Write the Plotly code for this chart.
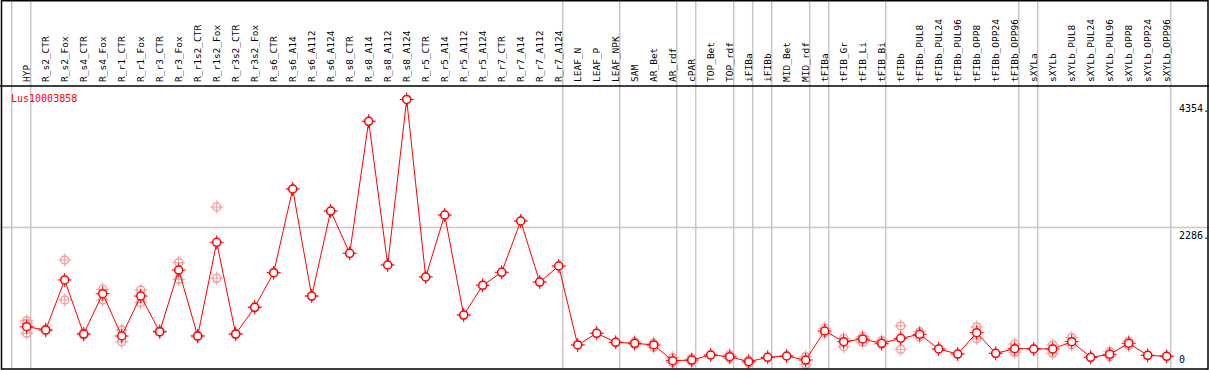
import plotly.graph_objects as go

W, H = 1209, 370

labels = ["HYP", "R_s2_CTR", "R_s2_Fox", "R_s4_CTR", "R_s4_Fox", "R_r1_CTR", "R_r1_Fox",
          "R_r3_CTR", "R_r3_Fox", "R_r1s2_CTR", "R_r1s2_Fox", "R_r3s2_CTR", "R_r3s2_Fox",
          "R_s6_CTR", "R_s6_A14", "R_s6_A112", "R_s6_A124", "R_s8_CTR", "R_s8_A14",
          "R_s8_A112", "R_s8_A124", "R_r5_CTR", "R_r5_A14", "R_r5_A112", "R_r5_A124",
          "R_r7_CTR", "R_r7_A14", "R_r7_A112", "R_r7_A124", "LEAF_N", "LEAF_P", "LEAF_NPK",
          "SAM", "AR_Bet", "AR_rdf", "cPAR", "TOP_Bet", "TOP_rdf", "iFIBa", "iFIBb",
          "MID_Bet", "MID_rdf", "tFIBa", "tFIB_Gr", "tFIB_Li", "tFIB_Bi", "tFIBb",
          "tFIBb_PUL8", "tFIBb_PUL24", "tFIBb_PUL96", "tFIBb_OPP8", "tFIBb_OPP24",
          "tFIBb_OPP96", "sXYLa", "sXYLb", "sXYLb_PUL8", "sXYLb_PUL24", "sXYLb_PUL96",
          "sXYLb_OPP8", "sXYLb_OPP24", "sXYLb_OPP96"]

means = [683, 630, 1438, 565, 1216, 533, 1179, 603, 1599, 533, 2047, 565, 997,
         1556, 2908, 1179, 2552, 1869, 4002, 1680, 4354, 1486, 2488, 872, 1352,
         1562, 2391, 1405, 1664, 388, 577, 431, 415, 388, 134, 145, 226, 199, 118, 189,
         210, 145, 614, 441, 485, 415, 496, 560, 323, 242, 587, 253, 328, 323, 323,
         441, 189, 237, 415, 221, 205]

replicates = [[780, 740, 577], [645, 615], [1761, 1115], [580, 550], [1288, 1115],
              [630, 441], [1276, 1071], [615, 590], [1717, 1449], [545, 520],
              [2617, 1465], [575, 555], [1005, 990],
              [1556], [2908], [1179], [2552], [1869], [4002], [1680], [4354], [1486],
              [2488], [872], [1352], [1562], [2391], [1405], [1664],
              [388], [577], [431], [440, 395], [415, 351], [183, 102], [175, 118],
              [226], [230, 170], [145, 92], [189], [210], [199, 76],
              [657, 586], [496, 360], [528, 431], [457, 399], [695, 318], [603, 517],
              [323], [242], [679, 490], [253], [404, 269], [323], [388, 253],
              [506, 388], [189], [280, 200], [377, 450], [221], [205]]

# indices after which a light-grey group separator is drawn
group_breaks = [-1, 0, 28, 31, 34, 35, 37, 38, 39, 41, 42, 45, 52, 53, 60]

gene = "Lus10003858"

ymax_val = max(means)
yaxis_top = ymax_val * 1.05
ymid = yaxis_top / 2

x_idx = list(range(len(labels)))
rep_x, rep_y = [], []
for i, reps in enumerate(replicates):
    for v in reps:
        rep_x.append(i)
        rep_y.append(v)

RED = "#ff0000"
PINK = "#f0a0a0"
GREY = "#c8c8c8"
FONT = "DejaVu Sans Mono"

fig = go.Figure()
fig.add_trace(go.Scatter(x=rep_x, y=rep_y, mode="markers", hoverinfo="skip",
                         marker=dict(symbol="cross-thin-open", size=9.5, color=PINK,
                                     line=dict(color=PINK, width=1))))
fig.add_trace(go.Scatter(x=rep_x, y=rep_y, mode="markers", hoverinfo="skip",
                         marker=dict(symbol="circle-open", size=8, color=PINK,
                                     line=dict(color=PINK, width=1.5))))
fig.add_trace(go.Scatter(x=x_idx, y=means, mode="markers", hoverinfo="skip",
                         marker=dict(symbol="cross-thin-open", size=10, color=RED,
                                     line=dict(color=RED, width=1))))
fig.add_trace(go.Scatter(x=x_idx, y=means, mode="lines+markers",
                         line=dict(color=RED, width=1),
                         marker=dict(symbol="circle", size=8, color="white",
                                     line=dict(color=RED, width=1.5))))

# plot geometry (pixels)
px0 = 26.7   # x pixel of first category
step = 19.0
xmin = -px0 / step
xmax = xmin + W / step
top_px, bot_px = 86, 369

def py(p):
    return (H - p) / H

shapes = []
for b in group_breaks:
    xv = b + 4 / step
    shapes.append(dict(type="line", xref="x", yref="paper", x0=xv, x1=xv,
                       y0=py(bot_px), y1=1, line=dict(color=GREY, width=1.5),
                       layer="below"))
shapes.append(dict(type="line", xref="paper", yref="y", x0=0, x1=1, y0=ymid, y1=ymid,
                   line=dict(color=GREY, width=1.5), layer="below"))
shapes.append(dict(type="line", xref="paper", yref="paper", x0=0, x1=1,
                   y0=py(top_px), y1=py(top_px), line=dict(color="black", width=1.5)))
shapes.append(dict(type="rect", xref="paper", yref="paper", x0=1.5 / W, x1=(W - 1) / W,
                   y0=py(bot_px), y1=py(0.7), line=dict(color="black", width=1.5)))

annotations = [
    dict(text=gene, xref="paper", yref="paper", x=9 / W, y=py(91), xanchor="left",
         yanchor="top", showarrow=False, font=dict(family=FONT, size=10, color=RED)),
    dict(text=f"{ymax_val:.0f}.", xref="paper", yref="y", x=1177 / W, y=ymax_val,
         xanchor="left", yanchor="top", yshift=-2, showarrow=False,
         font=dict(family=FONT, size=10, color="black")),
    dict(text=f"{ymid:.0f}.", xref="paper", yref="y", x=1177 / W, y=ymid,
         xanchor="left", yanchor="top", yshift=0, showarrow=False,
         font=dict(family=FONT, size=10, color="black")),
    dict(text="0", xref="paper", yref="y", x=1177 / W, y=0,
         xanchor="left", yanchor="bottom", yshift=2, showarrow=False,
         font=dict(family=FONT, size=10, color="black")),
]

fig.update_layout(
    width=W, height=H, margin=dict(l=0, r=0, t=0, b=0),
    paper_bgcolor="white", plot_bgcolor="white", showlegend=False,
    xaxis=dict(range=[xmin, xmax], domain=[0, 1], side="top", tickmode="array",
               tickvals=x_idx, ticktext=labels, tickangle=-90, ticks="",
               ticklabelstandoff=3,
               showgrid=False, zeroline=False, showline=False, automargin=False,
               tickfont=dict(family=FONT, size=9.5, color="black")),
    yaxis=dict(range=[0, yaxis_top], domain=[py(bot_px), py(top_px)],
               showticklabels=False, showgrid=False, zeroline=False, showline=False,
               automargin=False),
    shapes=shapes, annotations=annotations,
)

fig.write_html("out.html", config={"displayModeBar": False},
               post_script="document.body.style.margin='0';document.body.style.overflow='hidden';")
